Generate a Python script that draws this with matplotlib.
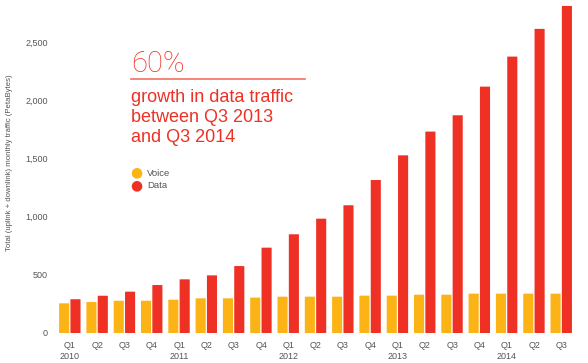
import matplotlib
matplotlib.use("Agg")
import matplotlib.pyplot as plt
from matplotlib.patches import FancyBboxPatch

quarters = ["Q1\n2010", "Q2", "Q3", "Q4", "Q1\n2011", "Q2", "Q3", "Q4",
            "Q1\n2012", "Q2", "Q3", "Q4", "Q1\n2013", "Q2", "Q3", "Q4",
            "Q1\n2014", "Q2", "Q3"]
voice = [255, 266, 277, 277, 286, 298, 298, 304, 312, 312, 312, 321,
         321, 329, 329, 338, 338, 338, 338]
data = [290, 320, 355, 412, 461, 495, 575, 733, 848, 982, 1097, 1314,
        1526, 1730, 1870, 2116, 2374, 2612, 2809]
yticks = [0, 500, 1000, 1500, 2000, 2500]

VOICE_C = "#FBB316"
DATA_C = "#EE3124"
GREY = "#555555"

plt.rcParams["font.family"] = ["Liberation Sans", "DejaVu Sans"]

fig = plt.figure(figsize=(5.88, 3.63), dpi=100)
# value 0 sits at y=333 px, 2860 at the top edge
ax = fig.add_axes([55 / 588, 30 / 363, 525 / 588, 333 / 363])
ymax = 2860
ax.set_ylim(0, ymax)
ax.set_xlim(-0.55, 18.68)


def rounded_bars(xs, hs, color, width=0.37):
    bars = ax.bar(xs, hs, width=width, color=color)
    for b in bars:
        b.set_visible(False)
        p = FancyBboxPatch((b.get_x(), b.get_y()), b.get_width(), b.get_height(),
                           boxstyle="round,pad=0,rounding_size=0.07",
                           mutation_aspect=ymax / 19.2 * 0.11,
                           facecolor=color, edgecolor="none")
        ax.add_patch(p)


xs = list(range(len(quarters)))
rounded_bars([x - 0.215 for x in xs], voice, VOICE_C)
rounded_bars([x + 0.2 for x in xs], data, DATA_C)

for s in ax.spines.values():
    s.set_visible(False)
ax.set_yticks(yticks)
ax.set_yticklabels([f"{v:,}" for v in yticks], fontsize=6.5, color=GREY)
ax.set_xticks(xs)
ax.set_xticklabels(quarters, fontsize=6.5, color=GREY, linespacing=1.3)
ax.tick_params(length=0, pad=6)
ax.tick_params(axis="y", pad=5)

fig.text(10 / 588, 1 - 163 / 363,
         "Total (uplink + downlink) monthly traffic (PetaBytes)",
         rotation=90, va="center", ha="center", fontsize=5.6, color=GREY)

fig.text(131 / 588, 1 - 72 / 363, "60%", fontsize=21, color=DATA_C,
         family=["Roboto", "DejaVu Sans"], fontweight="light",
         va="baseline", ha="left")
fig.add_artist(plt.Line2D([131 / 588, 305 / 588], [1 - 79 / 363, 1 - 79 / 363],
                          color="#F07060", lw=1.2))
fig.text(131 / 588, 1 - 89 / 363,
         "growth in data traffic\nbetween Q3 2013\nand Q3 2014",
         fontsize=13, color=DATA_C, va="top", ha="left", linespacing=1.22)

for yy, lab, c in [(172, "Voice", VOICE_C), (185, "Data", DATA_C)]:
    fig.text(136 / 588, 1 - yy / 363, "\u25CF", fontsize=10, color=c,
             va="center", ha="center", family=["DejaVu Sans"])
    fig.text(147 / 588, 1 - (yy + 1) / 363, lab, fontsize=6.8, color=GREY,
             va="center", ha="left")

fig.savefig("out.png", dpi=100)
